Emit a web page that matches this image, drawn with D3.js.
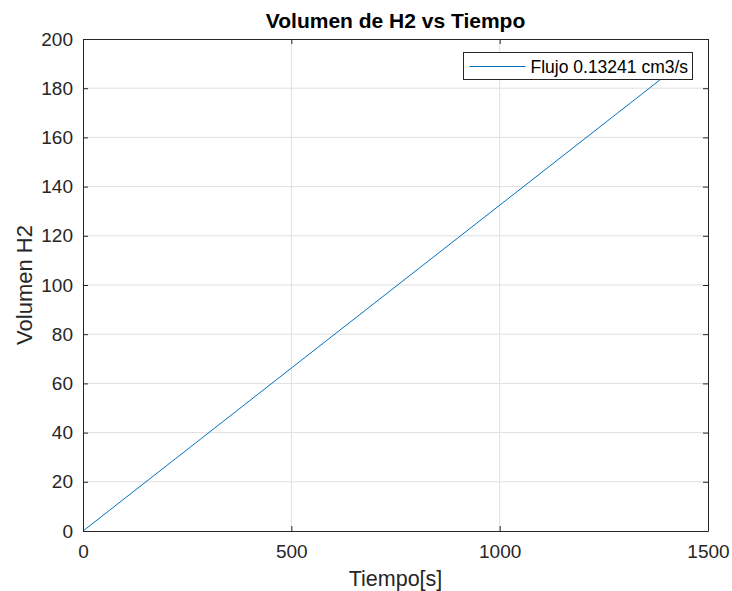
<!DOCTYPE html>
<meta charset="utf-8">
<title>Volumen de H2 vs Tiempo</title>
<style>
  body { margin: 0; background: #fff; }
  text { font-family: "Liberation Sans", Arial, sans-serif; fill: #262626; }
</style>
<body>
<script src="https://d3js.org/d3.v7.min.js"></script>
<script>

// data
var tiempo = [0, 1400];
var volumen = [0, 185.4];
var xTicks = [0, 500, 1000, 1500];
var yTicks = [0, 20, 40, 60, 80, 100, 120, 140, 160, 180, 200];
var serieNombre = "Flujo 0.13241 cm3/s";

var width = 732;
var height = 591;
var margin = { left: 83, right: 24, top: 39, bottom: 60 };

var svg = d3.select("body")
      .append("svg")
      .attr("width", width)
      .attr("height", height);

var x = d3.scaleLinear().domain([0, 1500]).range([margin.left, width - margin.right]);
var y = d3.scaleLinear().domain([0, 200]).range([height - margin.bottom, margin.top]);

var x0 = x.range()[0], x1 = x.range()[1];
var y0 = y.range()[0], y1 = y.range()[1];

// grid
svg.append("g").selectAll("line").data(xTicks.slice(1, -1))
  .join("line")
  .attr("x1", d => x(d)).attr("x2", d => x(d))
  .attr("y1", y0).attr("y2", y1)
  .attr("stroke", "#dfdfdf").attr("stroke-width", 1);

svg.append("g").selectAll("line").data(yTicks.slice(1, -1))
  .join("line")
  .attr("x1", x0).attr("x2", x1)
  .attr("y1", d => y(d)).attr("y2", d => y(d))
  .attr("stroke", "#dfdfdf").attr("stroke-width", 1);

// series
var pts = tiempo.map((t, i) => [t, volumen[i]]);
svg.append("path")
  .datum(pts)
  .attr("fill", "none")
  .attr("stroke", "#0072BD")
  .attr("stroke-width", 1)
  .attr("d", d3.line().x(d => x(d[0])).y(d => y(d[1])));

// axes (MATLAB style: inward ticks on all four sides)
function styleAxis(g) {
  g.select(".domain").attr("stroke", "#262626");
  g.selectAll(".tick line").attr("stroke", "#262626");
  g.selectAll(".tick text").style("font-size", "19px").attr("fill", "#262626");
}

svg.append("g")
  .attr("transform", "translate(0," + y0 + ")")
  .call(d3.axisBottom(x).tickValues(xTicks).tickFormat(d3.format("d"))
    .tickSizeInner(-5).tickSizeOuter(0).tickPadding(14))
  .call(styleAxis);

svg.append("g")
  .attr("transform", "translate(0," + y1 + ")")
  .call(d3.axisTop(x).tickValues(xTicks).tickSizeInner(-5).tickSizeOuter(0).tickFormat(""))
  .call(styleAxis);

svg.append("g")
  .attr("transform", "translate(" + x0 + ",0)")
  .call(d3.axisLeft(y).tickValues(yTicks).tickSizeInner(-5).tickSizeOuter(0).tickPadding(10))
  .call(styleAxis);

svg.append("g")
  .attr("transform", "translate(" + x1 + ",0)")
  .call(d3.axisRight(y).tickValues(yTicks).tickSizeInner(-5).tickSizeOuter(0).tickFormat(""))
  .call(styleAxis);

// title and labels
svg.append("text")
  .attr("x", (x0 + x1) / 2).attr("y", 28)
  .attr("text-anchor", "middle")
  .style("font-size", "21px").style("font-weight", "bold")
  .style("fill", "#000")
  .text("Volumen de H2 vs Tiempo");

svg.append("text")
  .attr("x", (x0 + x1) / 2).attr("y", 586)
  .attr("text-anchor", "middle")
  .style("font-size", "21.5px")
  .text("Tiempo[s]");

svg.append("text")
  .attr("transform", "translate(32," + ((y0 + y1) / 2) + ") rotate(-90)")
  .attr("text-anchor", "middle")
  .style("font-size", "22px")
  .text("Volumen H2");

// legend
var leg = svg.append("g").attr("transform", "translate(463.5,52.5)");
leg.append("rect")
  .attr("width", 229).attr("height", 27)
  .attr("fill", "#fff").attr("stroke", "#262626").attr("stroke-width", 1);
leg.append("line")
  .attr("x1", 6).attr("x2", 62).attr("y1", 14).attr("y2", 14)
  .attr("stroke", "#0072BD").attr("stroke-width", 1);
leg.append("text")
  .attr("x", 67).attr("y", 20)
  .style("font-size", "17.5px")
  .style("fill", "#000")
  .text(serieNombre);

</script>
</body>
